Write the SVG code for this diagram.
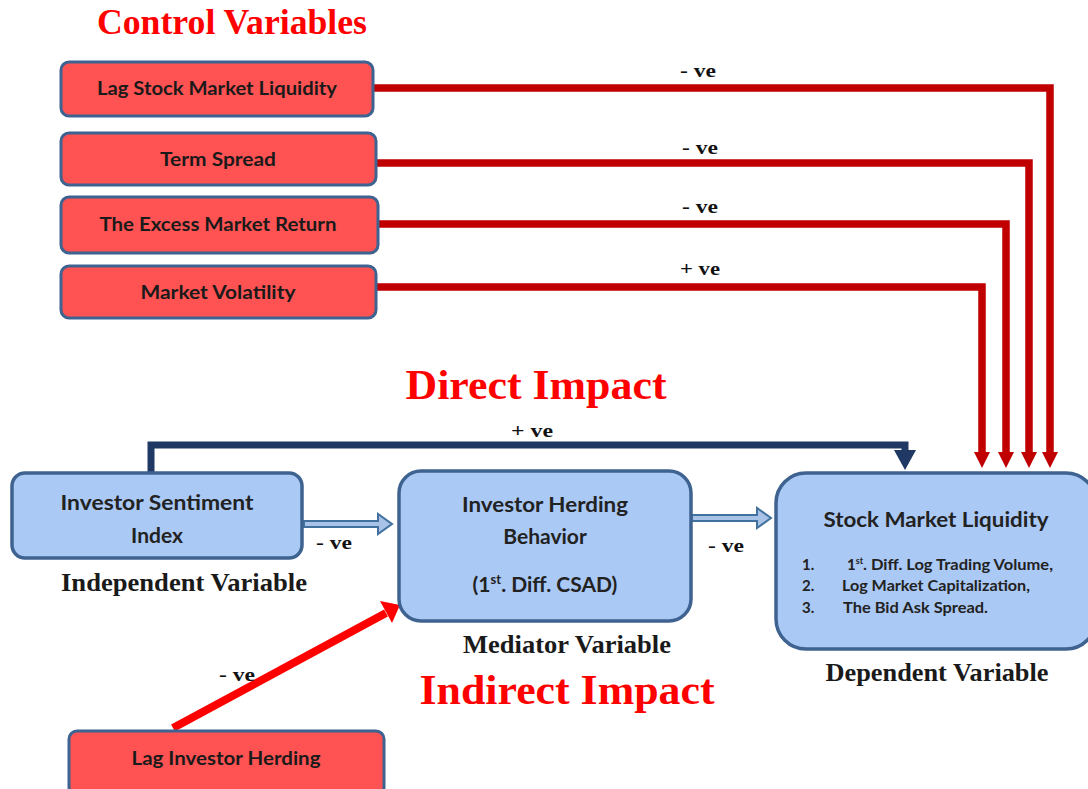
<svg xmlns="http://www.w3.org/2000/svg" width="1088" height="789" viewBox="0 0 1088 789">
<defs>
<style>
.ctl{fill:#FF5252;stroke:#3F6391;stroke-width:3}
.var{fill:#AAC9F5;stroke:#3F6391;stroke-width:3.5}
.bt{font-family:Lato,"Open Sans",sans-serif;font-weight:bold;font-size:19px;fill:#1a1a1a;text-anchor:middle}
.nt{font-family:Lato,"Open Sans",sans-serif;font-weight:bold;font-size:21px;fill:#222;text-anchor:middle}
.lt{font-family:Lato,"Open Sans",sans-serif;font-weight:bold;font-size:15px;fill:#222}
.head{font-family:"Liberation Serif",serif;font-weight:bold;fill:#FF0000;text-anchor:middle}
.sub{font-family:"Liberation Serif",serif;font-weight:bold;font-size:25px;fill:#1a1a1a;text-anchor:middle}
.ve{font-family:"Liberation Serif",serif;font-weight:bold;font-size:19px;fill:#111;text-anchor:middle}
.red{fill:none;stroke:#C00000;stroke-width:7.5}
</style>
</defs>

<text class="head" x="232" y="34" font-size="35" textLength="270" lengthAdjust="spacingAndGlyphs">Control Variables</text>
<text class="head" x="536" y="399" font-size="43" textLength="261" lengthAdjust="spacingAndGlyphs">Direct Impact</text>
<text class="head" x="567" y="704" font-size="43" textLength="295" lengthAdjust="spacingAndGlyphs">Indirect Impact</text>

<g id="connectors">
<path class="red" d="M373,88 H1050 V452"/>
<path d="M1042,452 L1058,452 L1050,468 z" fill="#C00000"/>
<path class="red" d="M376,163 H1029 V452"/>
<path d="M1021,452 L1037,452 L1029,468 z" fill="#C00000"/>
<path class="red" d="M378,224 H1006 V452"/>
<path d="M998,452 L1014,452 L1006,468 z" fill="#C00000"/>
<path class="red" d="M371,287 H982 V452"/>
<path d="M974,452 L990,452 L982,468 z" fill="#C00000"/>
<text class="ve" x="698" y="77" textLength="36" lengthAdjust="spacingAndGlyphs">- ve</text>
<text class="ve" x="700" y="154" textLength="36" lengthAdjust="spacingAndGlyphs">- ve</text>
<text class="ve" x="700" y="213" textLength="36" lengthAdjust="spacingAndGlyphs">- ve</text>
<text class="ve" x="700" y="275" textLength="40" lengthAdjust="spacingAndGlyphs">+ ve</text>

<path d="M151,472 V445 H905 V455" fill="none" stroke="#1F3864" stroke-width="7"/>
<path d="M894,450 L916,450 L905,470 z" fill="#1F3864"/>
<text class="ve" x="532" y="437" textLength="42" lengthAdjust="spacingAndGlyphs">+ ve</text>

<path d="M304,521 H378 V514 L392,524 L378,534 V527 H304 z" fill="#A9C3E8" stroke="#41719C" stroke-width="2"/>
<text class="ve" x="334" y="549" textLength="36" lengthAdjust="spacingAndGlyphs">- ve</text>

<path d="M692,515 H757 V508 L771,518 L757,528 V521 H692 z" fill="#A9C3E8" stroke="#41719C" stroke-width="2"/>
<text class="ve" x="726" y="552" textLength="36" lengthAdjust="spacingAndGlyphs">- ve</text>

<path d="M173,728 L386,613" fill="none" stroke="#FF0000" stroke-width="8"/>
<path d="M380,601 L400,605 L392,623 z" fill="#FF0000"/>
<text class="ve" x="237" y="681" textLength="36" lengthAdjust="spacingAndGlyphs">- ve</text>
</g>

<g id="n-lagsml">
<rect class="ctl" x="61" y="62" width="312" height="54" rx="8"/>
<text class="bt" x="217" y="95" textLength="240" lengthAdjust="spacingAndGlyphs">Lag Stock Market Liquidity</text>
</g>
<g id="n-term">
<rect class="ctl" x="61" y="133" width="315" height="52" rx="8"/>
<text class="bt" x="218" y="166" textLength="116" lengthAdjust="spacingAndGlyphs">Term Spread</text>
</g>
<g id="n-excess">
<rect class="ctl" x="61" y="197" width="317" height="56" rx="8"/>
<text class="bt" x="218" y="231" textLength="237" lengthAdjust="spacingAndGlyphs">The Excess Market Return</text>
</g>
<g id="n-vol">
<rect class="ctl" x="61" y="266" width="315" height="52" rx="8"/>
<text class="bt" x="218" y="299" textLength="155" lengthAdjust="spacingAndGlyphs">Market Volatility</text>
</g>

<g id="n-sentiment">
<rect class="var" x="12" y="473" width="290" height="85" rx="13"/>
<text class="nt" x="157" y="510" textLength="193" lengthAdjust="spacingAndGlyphs">Investor Sentiment</text>
<text class="nt" x="157" y="543">Index</text>
<text class="sub" x="184" y="591" textLength="246" lengthAdjust="spacingAndGlyphs">Independent Variable</text>
</g>

<g id="n-herding">
<rect class="var" x="399" y="471" width="292" height="150" rx="22"/>
<text class="nt" x="545" y="512" fill="#000" textLength="166" lengthAdjust="spacingAndGlyphs">Investor Herding</text>
<text class="nt" x="545" y="544">Behavior</text>
<text class="nt" x="545" y="592" fill="#000">(1<tspan font-size="13" dy="-8">st</tspan><tspan dy="8">. Diff. CSAD)</tspan></text>
<text class="sub" x="567" y="653" textLength="208" lengthAdjust="spacingAndGlyphs">Mediator Variable</text>
</g>

<g id="n-sml">
<rect class="var" x="776" y="473" width="320" height="176" rx="30"/>
<text class="nt" x="936" y="527" textLength="225" lengthAdjust="spacingAndGlyphs">Stock Market Liquidity</text>
<text class="lt" x="802" y="570">1.</text>
<text class="lt" x="847" y="570">1<tspan font-size="9" dy="-6">st</tspan><tspan dy="6" textLength="190" lengthAdjust="spacingAndGlyphs">. Diff. Log Trading Volume,</tspan></text>
<text class="lt" x="802" y="591">2.</text>
<text class="lt" x="842" y="591" textLength="188" lengthAdjust="spacingAndGlyphs">Log Market Capitalization,</text>
<text class="lt" x="802" y="613">3.</text>
<text class="lt" x="843" y="613" textLength="145" lengthAdjust="spacingAndGlyphs">The Bid Ask Spread.</text>
<text class="sub" x="937" y="681" textLength="223" lengthAdjust="spacingAndGlyphs">Dependent Variable</text>
</g>

<g id="n-laghd">
<rect class="ctl" x="69" y="731" width="315" height="64" rx="8"/>
<text class="bt" x="226" y="765" textLength="189" lengthAdjust="spacingAndGlyphs">Lag Investor Herding</text>
</g>
</svg>
